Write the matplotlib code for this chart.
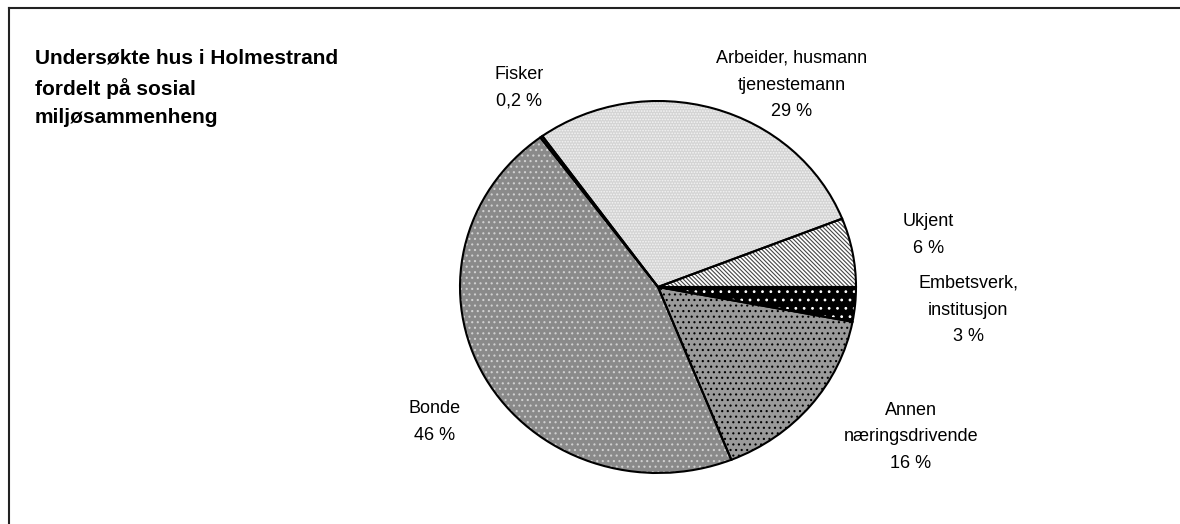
import matplotlib
matplotlib.use("Agg")
import matplotlib.pyplot as plt
from matplotlib.lines import Line2D

plt.rcParams['font.family'] = ['Liberation Sans', 'DejaVu Sans']
plt.rcParams['hatch.linewidth'] = 0.8

# Data (order: counter-clockwise from 3 o'clock)
categories = ["Ukjent", "Arbeider, husmann\ntjenestemann", "Fisker", "Bonde",
              "Annen\nnæringsdrivende", "Embetsverk,\ninstitusjon"]
value_labels = ["6 %", "29 %", "0,2 %", "46 %", "16 %", "3 %"]
values = [6, 29, 0.2, 46, 16, 3]

# Styles
face_colors = ["#ffffff", "#d4d4d4", "#606060", "#8a8a8a", "#9a9a9a", "#000000"]
hatches = ["\\\\\\\\\\\\\\\\", "......", "", "...", "...", ".."]
hatch_colors = ["#444444", "#f4f4f4", "#606060", "#d0d0d0", "#000000", "#ffffff"]
# label positions relative to pie (x, y) in pie radius units
label_pos = [(1.364, 0.28), (0.677, 1.086), (-0.70, 1.07), (-1.126, -0.726),
             (1.278, -0.806), (1.566, -0.124)]

W, H = 1180, 524
fig = plt.figure(figsize=(W / 100, H / 100), dpi=100)

cx, cy, rx, ry = 658, 287, 198, 186
ax = fig.add_axes([(cx - rx) / W, (H - cy - ry) / H, 2 * rx / W, 2 * ry / H])

wedges, _ = ax.pie(values, startangle=0, counterclock=True, colors=face_colors)
for w, h, hc in zip(wedges, hatches, hatch_colors):
    w.set_hatch(h)
    w.set_edgecolor(hc)
    w.set_linewidth(0)

ax.pie(values, startangle=0, counterclock=True,
       wedgeprops=dict(facecolor='none', edgecolor='black', linewidth=1.5))

ax.set_aspect('auto')
ax.set_xlim(-1, 1)
ax.set_ylim(-1, 1)
ax.axis('off')

for cat, vl, (lx, ly) in zip(categories, value_labels, label_pos):
    ax.text(lx, ly, f"{cat}\n{vl}", ha='center', va='center', fontsize=13,
            linespacing=1.75, clip_on=False)

fig.text(35 / W, 1 - 49 / H, "Undersøkte hus i Holmestrand\nfordelt på sosial\nmiljøsammenheng",
         ha='left', va='top', fontsize=15, fontweight='bold', linespacing=1.6)

# frame
fig.add_artist(Line2D([8.5 / W, 1], [1 - 7.5 / H, 1 - 7.5 / H], color='#222222', lw=1.5))
fig.add_artist(Line2D([8.5 / W, 8.5 / W], [0, 1 - 7.5 / H], color='#222222', lw=1.5))

fig.savefig("out.png", dpi=100)
